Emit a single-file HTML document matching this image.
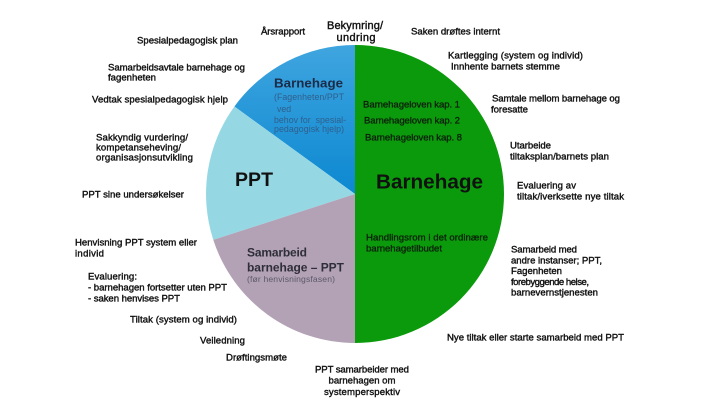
<!DOCTYPE html>
<html>
<head>
<meta charset="utf-8">
<style>
  html,body{margin:0;padding:0;background:#fff;}
  svg{display:block;}
  text{font-family:"Liberation Sans", Arial, sans-serif;}
  .o{font-size:9.6px;fill:#111;stroke:#111;stroke-width:0.38px;}
</style>
</head>
<body>
<svg width="720" height="405" viewBox="0 0 720 405" xmlns="http://www.w3.org/2000/svg">
  <defs>
    <linearGradient id="db" x1="0" y1="45" x2="0" y2="194" gradientUnits="userSpaceOnUse">
      <stop offset="0" stop-color="#3fa5df"/>
      <stop offset="1" stop-color="#0c88d1"/>
    </linearGradient>
  </defs>
  <rect width="720" height="405" fill="#fff"/>

  <!-- pie -->
  <path d="M355,45 A149,149 0 0 1 355,343 Z" fill="#0b9a0b"/>
  <path d="M355,194 L355,45 A149,149 0 0 0 234.4,106.5 Z" fill="url(#db)"/>
  <path d="M355,194 L234.4,106.5 A149,149 0 0 0 213.3,239.9 Z" fill="#95d8e4"/>
  <path d="M355,194 L213.3,239.9 A149,149 0 0 0 355,343 Z" fill="#b3a1b5"/>

  <!-- blue slice text -->
  <text x="274" y="87.7" font-size="13.3" font-weight="bold" fill="#1c2b48" textLength="69">Barnehage</text>
  <g font-size="8.8" fill="#2f5f8c">
    <text x="274" y="100" textLength="70">(Fagenheten/PPT</text>
    <text x="277" y="112">ved</text>
    <text x="274" y="123" textLength="72" xml:space="preserve">behov for  spesial-</text>
    <text x="274" y="132" textLength="70">pedagogisk hjelp)</text>
  </g>

  <!-- green slice text -->
  <g font-size="9.6" fill="#0c1f0c" stroke="#0c1f0c" stroke-width="0.3">
    <text x="363" y="107.5" textLength="97">Barnehageloven kap. 1</text>
    <text x="364" y="123.5" textLength="96">Barnehageloven kap. 2</text>
    <text x="365" y="140.5" textLength="97">Barnehageloven kap. 8</text>
    <text x="366" y="240.5" textLength="122">Handlingsrom i det ordinære</text>
    <text x="366" y="251.5" textLength="76">barnehagetilbudet</text>
  </g>
  <text x="376" y="188.5" font-size="20.7" font-weight="bold" fill="#111" textLength="107">Barnehage</text>

  <!-- PPT -->
  <text x="235" y="186" font-size="19.5" font-weight="bold" fill="#111" textLength="38">PPT</text>

  <!-- mauve -->
  <text x="247" y="256.3" font-size="12" font-weight="bold" fill="#2e2e38" textLength="60">Samarbeid</text>
  <text x="247" y="271.3" font-size="12" font-weight="bold" fill="#2e2e38" textLength="97">barnehage – PPT</text>
  <text x="247" y="282" font-size="8.6" fill="#5a5a6a" textLength="88">(før henvisningsfasen)</text>

  <!-- top -->
  <text x="355" y="29" font-size="11" fill="#111" stroke="#111" stroke-width="0.4" text-anchor="middle" textLength="56">Bekymring/</text>
  <text x="356" y="41" font-size="11" fill="#111" stroke="#111" stroke-width="0.4" text-anchor="middle" textLength="39">undring</text>

  <!-- outer labels -->
  <g class="o">
    <text x="261" y="34.5" textLength="44">Årsrapport</text>
    <text x="411" y="34.5" textLength="89">Saken drøftes internt</text>
    <text x="448" y="58.5" textLength="135">Kartlegging (system og individ)</text>
    <text x="451" y="69.5" textLength="109">Innhente barnets stemme</text>
    <text x="492" y="101.5" textLength="128">Samtale mellom barnehage og</text>
    <text x="491" y="112.5" textLength="37">foresatte</text>
    <text x="510" y="148.5" textLength="41">Utarbeide</text>
    <text x="510" y="159.5" textLength="99">tiltaksplan/barnets plan</text>
    <text x="517" y="188.5" textLength="59">Evaluering av</text>
    <text x="517" y="199.5" textLength="107">tiltak/iverksette nye tiltak</text>
    <text x="511" y="252.5" textLength="66">Samarbeid med</text>
    <text x="511" y="263.3" textLength="91">andre instanser; PPT,</text>
    <text x="511" y="274.1" textLength="51">Fagenheten</text>
    <text x="511" y="284.9" textLength="78">forebyggende helse,</text>
    <text x="511" y="295.7" textLength="87">barnevernstjenesten</text>
    <text x="447" y="340.5" textLength="177">Nye tiltak eller starte samarbeid med PPT</text>
    <text x="362" y="372.5" text-anchor="middle" textLength="94">PPT samarbeider med</text>
    <text x="362" y="383.5" text-anchor="middle" textLength="67">barnehagen om</text>
    <text x="362" y="395" text-anchor="middle" textLength="76">systemperspektiv</text>

    <text x="137" y="43.5" textLength="101">Spesialpedagogisk plan</text>
    <text x="108" y="70.5" textLength="137">Samarbeidsavtale barnehage og</text>
    <text x="108" y="80.5" textLength="48">fagenheten</text>
    <text x="92" y="102.5" textLength="136">Vedtak spesialpedagogisk hjelp</text>
    <text x="96" y="140.5" textLength="92">Sakkyndig vurdering/</text>
    <text x="96" y="150.5" textLength="85">kompetanseheving/</text>
    <text x="96" y="160.5" textLength="97">organisasjonsutvikling</text>
    <text x="82" y="197.5" textLength="102">PPT sine undersøkelser</text>
    <text x="75" y="245.5" textLength="122">Henvisning PPT system eller</text>
    <text x="75" y="256.5" textLength="29">individ</text>
    <text x="88" y="279.5" textLength="49">Evaluering:</text>
    <text x="88" y="290.5" textLength="139">- barnehagen fortsetter uten PPT</text>
    <text x="88" y="301.5" textLength="92">- saken henvises PPT</text>
    <text x="130" y="322.5" textLength="107">Tiltak (system og individ)</text>
    <text x="200" y="343.5" textLength="45">Veiledning</text>
    <text x="226" y="360.5" textLength="61">Drøftingsmøte</text>
  </g>
</svg>
</body>
</html>
